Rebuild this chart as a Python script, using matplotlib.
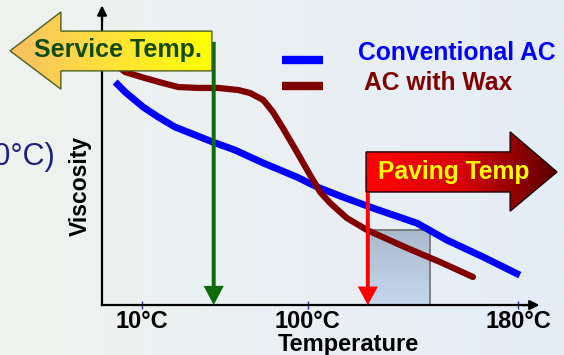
#!/usr/bin/env python
"""Viscosity-temperature schematic: conventional AC vs AC with wax additive."""

import matplotlib

matplotlib.use("Agg")
import matplotlib.pyplot as plt  # noqa: E402
import numpy as np  # noqa: E402
from matplotlib.colors import LinearSegmentedColormap  # noqa: E402
from matplotlib.patches import FancyArrow, Polygon  # noqa: E402

plt.rcParams["font.family"] = ["Liberation Sans", "DejaVu Sans"]

# Temperature axis is schematic: positions on a 0-100 scale, viscosity likewise.
conv_x = [3.0, 5.3, 9.4, 12.8, 16.7, 21.2, 25.3, 30.4, 36.8, 44.5, 49.1,
          54.3, 61.9, 71.9, 78.8, 87.0, 95.4]
conv_y = [74.6, 71.2, 66.2, 62.9, 59.5, 56.9, 54.5, 51.8, 47.5, 42.8, 39.5,
          36.5, 32.4, 27.4, 21.7, 16.1, 10.0]
wax_x = [3.0, 5.3, 9.8, 13.7, 17.4, 21.9, 26.5, 31.1, 33.8, 36.8, 39.0, 41.3,
         44.5, 47.5, 49.8, 52.1, 55.9, 60.5, 69.6, 77.2, 84.7]
wax_y = [80.5, 77.9, 75.9, 74.3, 72.9, 72.6, 72.6, 71.9, 70.9, 68.6, 64.6,
         59.2, 51.2, 43.5, 37.8, 34.1, 29.1, 25.1, 19.1, 14.4, 9.4]

tick_pos = [9.1, 47.0, 95.0]
tick_labels = ["10°C", "100°C", "180°C"]

service_x = 25.5          # service temperature marker
service_top = 88.0
paving_x = 60.7           # paving window, left edge
paving_x_hi = 74.9        # paving window, right edge
paving_top = 25.1         # height of paving window
paving_arrow_top = 44.0

XLIM = (-23.3, 105.5)
YLIM = (-16.7, 102.0)

BLUE = "#0000ff"
MAROON = "#800000"
GREEN = "#0b6b0b"


def gradient_patch(ax, verts, colors, horizontal=True, edge="k", lw=1.0, z=5):
    """Polygon filled with a linear colour gradient (image clipped to the patch)."""
    poly = Polygon(verts, closed=True, facecolor="none", edgecolor=edge,
                   lw=lw, zorder=z + 0.1)
    ax.add_patch(poly)
    xs, ys = zip(*verts)
    ramp = np.linspace(0, 1, 256)
    data = ramp[None, :] if horizontal else ramp[:, None]
    cmap = LinearSegmentedColormap.from_list("ramp", colors)
    im = ax.imshow(data, cmap=cmap, aspect="auto", zorder=z,
                   extent=(min(xs), max(xs), min(ys), max(ys)),
                   interpolation="bilinear")
    im.set_clip_path(poly)
    return poly


def main():
    fig = plt.figure(figsize=(5.64, 3.55), dpi=100)
    ax = fig.add_axes([0, 0, 1, 1])
    ax.set_facecolor("none")

    # soft left-to-right background wash
    bg = LinearSegmentedColormap.from_list("bg", ["#eff3ef", "#e4ecf7"])
    ax.imshow(np.linspace(0, 1, 256)[None, :], cmap=bg, aspect="auto",
              extent=(*XLIM, *YLIM), zorder=0)

    # paving temperature window
    gradient_patch(
        ax,
        [(paving_x, 0), (paving_x_hi, 0), (paving_x_hi, paving_top),
         (paving_x, paving_top)],
        ["#a9b9cd", "#c6d8ee"], horizontal=False, edge="#6e6e6e", lw=1.2, z=2,
    )

    ax.plot(conv_x, conv_y, color=BLUE, lw=5, solid_capstyle="butt",
            solid_joinstyle="round", zorder=3)
    ax.plot(wax_x, wax_y, color=MAROON, lw=4.5, solid_capstyle="round",
            solid_joinstyle="round", zorder=3)

    # legend swatches
    ax.plot([41.1, 50.5], [81.9, 81.9], color=BLUE, lw=6, solid_capstyle="butt")
    ax.plot([41.1, 50.5], [73.2, 73.2], color=MAROON, lw=6,
            solid_capstyle="butt")
    ax.text(58.4, 84.3, "Conventional AC", color=BLUE, fontsize=17.7,
            fontweight="bold", va="center", ha="left")
    ax.text(59.8, 74.2, "AC with Wax", color=MAROON, fontsize=17.7,
            fontweight="bold", va="center", ha="left")

    # service / paving temperature markers
    ax.add_patch(FancyArrow(service_x, service_top, 0, -service_top, width=0.9,
                            head_width=4.6, head_length=6.4,
                            length_includes_head=True, color=GREEN, lw=0,
                            zorder=4))
    ax.add_patch(FancyArrow(paving_x, paving_arrow_top, 0, -paving_arrow_top,
                            width=0.9, head_width=4.6, head_length=6.2,
                            length_includes_head=True, color="#ff0000", lw=0,
                            zorder=4))

    gradient_patch(
        ax,
        [(-21.0, 85.0), (-9.4, 98.0), (-9.4, 91.6), (25.1, 91.6),
         (25.1, 78.3), (-9.4, 78.3), (-9.4, 72.2)],
        ["#f6bf62", "#ffe23a", "#ffff00"], edge="#4f5f20", lw=1.0, z=5,
    )
    ax.text(3.6, 85.2, "Service Temp.", color="#134a13", fontsize=18,
            fontweight="bold", ha="center", va="center", zorder=7)

    gradient_patch(
        ax,
        [(60.3, 51.2), (93.2, 51.2), (93.2, 57.9), (103.9, 44.5),
         (93.2, 31.4), (93.2, 37.8), (60.3, 37.8)],
        ["#ff0000", "#d80000", "#5c0000"], edge="#1a0000", lw=1.0, z=5,
    )
    ax.text(80.2, 44.4, "Paving Temp", color="#ffff00", fontsize=17.7,
            fontweight="bold", ha="center", va="center", zorder=7)

    # axes: spines pinned to the origin, with arrowheads
    for side in ("top", "right"):
        ax.spines[side].set_visible(False)
    ax.spines["left"].set_position(("data", 0))
    ax.spines["bottom"].set_position(("data", 0))
    ax.spines["left"].set_bounds(0, 97)
    ax.spines["bottom"].set_bounds(0, 97)
    for side in ("left", "bottom"):
        ax.spines[side].set_linewidth(1.6)
        ax.spines[side].set_zorder(2.5)
    ax.annotate("", xy=(99.9, 0), xytext=(96, 0),
                arrowprops=dict(arrowstyle="-|>", color="k", lw=1.6,
                                mutation_scale=14, shrinkA=0, shrinkB=0))
    ax.annotate("", xy=(0, 100.2), xytext=(0, 95),
                arrowprops=dict(arrowstyle="-|>", color="k", lw=1.6,
                                mutation_scale=14, shrinkA=0, shrinkB=0))

    ax.set_yticks([])
    ax.set_xticks(tick_pos, tick_labels)
    ax.tick_params(axis="x", direction="inout", length=6, width=1,
                   color="#30308a", pad=0.5, labelsize=17)
    for lab in ax.get_xticklabels():
        lab.set_fontweight("bold")

    ax.text(56.2, -13.1, "Temperature", fontsize=17, fontweight="bold",
            ha="center", va="center")
    ax.text(-5.0, 39.8, "Viscosity", fontsize=16.5, fontweight="bold",
            ha="center", va="center", rotation=90)
    ax.text(-10.7, 49.5, "(10°C)", fontsize=22, color="#202080",
            ha="right", va="center")

    ax.set_xlim(*XLIM)
    ax.set_ylim(*YLIM)
    fig.savefig("out.png", dpi=100)
    plt.close(fig)


if __name__ == "__main__":
    main()
